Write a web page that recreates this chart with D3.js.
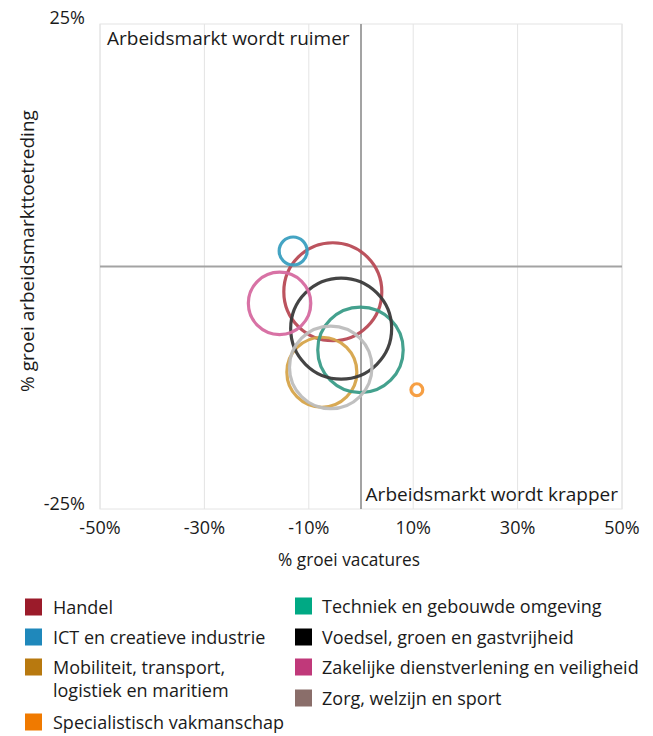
<!DOCTYPE html>
<html><head><meta charset="utf-8">
<script src="https://cdn.jsdelivr.net/npm/d3@7"></script>
<style>
body{margin:0;background:#fff;}
text{font-family:"Open Sans",sans-serif;fill:#1a1a1a;}
</style></head>
<body><svg id="c" width="653" height="736"></svg>
<script>
const categories = ["Handel","ICT en creatieve industrie","Mobiliteit, transport, logistiek en maritiem","Specialistisch vakmanschap","Techniek en gebouwde omgeving","Voedsel, groen en gastvrijheid","Zakelijke dienstverlening en veiligheid","Zorg, welzijn en sport"];
const groeiVacatures = [-5.4, -13.0, -7.5, 10.7, -0.1, -3.8, -15.6, -5.8];
const groeiToetreding = [-2.6, 1.6, -10.9, -12.7, -8.6, -6.4, -3.8, -10.4];
const bubbleSize = [96, 7.8, 49, 1.4, 73, 102, 39, 68];
const legendColors = ["#9b1b2a","#1f88bb","#b8790f","#f07a00","#00a984","#000000","#c0397a","#8a6e6a"];
const bubbleColors = ["#b84a55","#3a9fc0","#d6a44a","#f59a3a","#3a9c88","#3a3a3a","#d66aa0","#bdbdbd"];
const xTicks = [-50,-30,-10,10,30,50];
const yTicks = [25,-25];
const legendLeft = ["Handel","ICT en creatieve industrie",["Mobiliteit, transport,","logistiek en maritiem"],"Specialistisch vakmanschap"];
const legendRight = ["Techniek en gebouwde omgeving","Voedsel, groen en gastvrijheid","Zakelijke dienstverlening en veiligheid","Zorg, welzijn en sport"];

const svg = d3.select("#c");
const x = d3.scaleLinear().domain([-50,50]).range([100,622]);
const y = d3.scaleLinear().domain([-25,25]).range([509,24]);
const r = d3.scaleSqrt().domain([0,102]).range([0,50.5]);

// gridlines
svg.append("g").selectAll("line").data(xTicks).join("line")
  .attr("x1",d=>x(d)).attr("x2",d=>x(d)).attr("y1",y(25)).attr("y2",y(-25))
  .attr("stroke","#e4e4e4").attr("stroke-width",1);
svg.append("rect").attr("x",x(-50)).attr("y",y(25)).attr("width",x(50)-x(-50)).attr("height",y(-25)-y(25))
  .attr("fill","none").attr("stroke","#e4e4e4").attr("stroke-width",1);
// zero lines
svg.append("line").attr("x1",x(-50)).attr("x2",x(50)).attr("y1",y(0)).attr("y2",y(0)).attr("stroke","#a3a3a3").attr("stroke-width",2);
svg.append("line").attr("x1",x(0)).attr("x2",x(0)).attr("y1",y(25)).attr("y2",y(-25)).attr("stroke","#a3a3a3").attr("stroke-width",2);

// tick labels
svg.append("g").selectAll("text").data(xTicks).join("text")
  .attr("x",d=>x(d)).attr("y",534).attr("text-anchor","middle").attr("font-size",18)
  .text(d=>d+"%");
svg.append("g").selectAll("text").data(yTicks).join("text")
  .attr("x",85).attr("y",d=>d>0?y(d)+0:y(d)+1).attr("text-anchor","end").attr("font-size",18)
  .text(d=>d+"%");

// axis titles
svg.append("text").attr("x",349).attr("y",566).attr("text-anchor","middle").attr("font-size",17.3).text("% groei vacatures");
svg.append("text").attr("transform","translate(34,251) rotate(-90)").attr("text-anchor","middle").attr("font-size",19).text("% groei arbeidsmarkttoetreding");

// quadrant labels
svg.append("text").attr("x",107).attr("y",45).attr("font-size",19).text("Arbeidsmarkt wordt ruimer");
svg.append("text").attr("x",618).attr("y",501).attr("text-anchor","end").attr("font-size",19).text("Arbeidsmarkt wordt krapper");

// bubbles
const idx = d3.range(categories.length);
svg.append("g").selectAll("circle").data(idx).join("circle")
  .attr("cx",i=>x(groeiVacatures[i])).attr("cy",i=>y(groeiToetreding[i])).attr("r",i=>r(bubbleSize[i]))
  .attr("fill","none").attr("stroke",i=>bubbleColors[i]).attr("stroke-width",3.2).attr("stroke-opacity",0.95);

// legend
const lgL = [{t:legendLeft[0],c:legendColors[0],y:607},{t:legendLeft[1],c:legendColors[1],y:637},{t:legendLeft[2],c:legendColors[2],y:667},{t:legendLeft[3],c:legendColors[3],y:722}];
const lgR = [{t:legendRight[0],c:legendColors[4],y:606},{t:legendRight[1],c:legendColors[5],y:637},{t:legendRight[2],c:legendColors[6],y:667},{t:legendRight[3],c:legendColors[7],y:698}];
function drawLegend(items, sx, tx){
  const g = svg.append("g");
  items.forEach(it=>{
    g.append("rect").attr("x",sx).attr("y",it.y-8.5).attr("width",17).attr("height",17).attr("fill",it.c);
    const lines = Array.isArray(it.t)?it.t:[it.t];
    lines.forEach((l,k)=>{
      g.append("text").attr("x",tx).attr("y",it.y+6.5+k*23).attr("font-size",18).text(l);
    });
  });
}
drawLegend(lgL,25,53);
drawLegend(lgR,295,322);
</script></body></html>
